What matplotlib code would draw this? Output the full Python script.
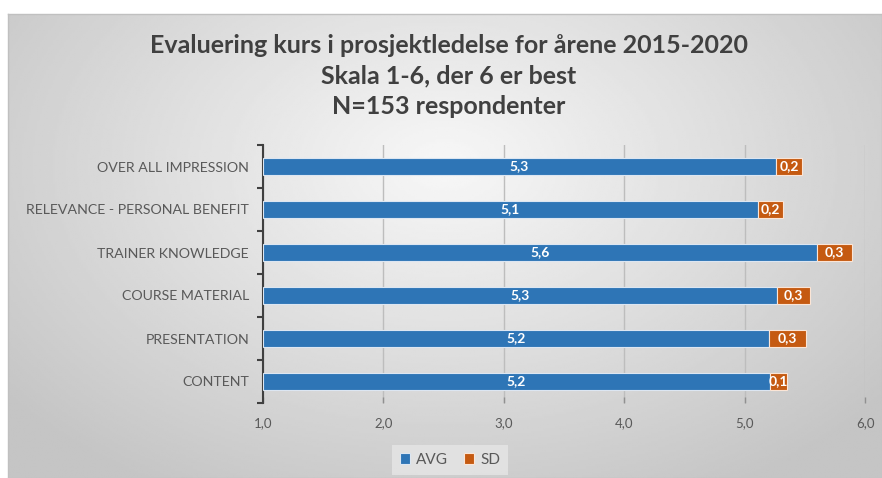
import matplotlib.pyplot as plt
import numpy as np

plt.rcParams['font.family'] = ['Lato', 'DejaVu Sans']

categories = ['OVER ALL IMPRESSION', 'RELEVANCE - PERSONAL BENEFIT', 'TRAINER KNOWLEDGE',
              'COURSE MATERIAL', 'PRESENTATION', 'CONTENT']
avg = [5.26, 5.11, 5.60, 5.27, 5.20, 5.21]
sd = [0.22, 0.21, 0.29, 0.27, 0.31, 0.14]
xticks = [1.0, 2.0, 3.0, 4.0, 5.0, 6.0]

blue = '#2E75B6'
orange = '#C55A11'
grey_txt = '#595959'


def comma(v):
    return ('%.1f' % v).replace('.', ',')


fig = plt.figure(figsize=(8.82, 4.78), dpi=100)
fig.patch.set_facecolor('white')

# gradient background panel
bg = fig.add_axes([8 / 882, 0, 874 / 882, 464 / 478], zorder=0)
gx = np.linspace(-1, 1, 400)
gy = np.linspace(-1, 1, 220)
GX, GY = np.meshgrid(gx, gy)
r = np.sqrt(GX ** 2 + (0.8 * (GY + 0.35)) ** 2)
shade = 0.97 - 0.2 * np.clip(r, 0, 1.3) / 1.3
bg.imshow(shade, cmap='gray', vmin=0, vmax=1, aspect='auto', extent=[0, 1, 0, 1])
bg.set_xticks([])
bg.set_yticks([])
for s in bg.spines.values():
    s.set_color('#c0c0c0')
    s.set_linewidth(1)

ax = fig.add_axes([263 / 882, 1 - 403 / 478, (865 - 263) / 882, 258 / 478], zorder=1)
ax.patch.set_alpha(0)

y = np.arange(len(categories))
widths = [a - 1 for a in avg]
ax.barh(y, widths, left=1, height=0.4, color=blue, edgecolor='#dce6f2', linewidth=0.8,
        label='AVG', zorder=3)
ax.barh(y, sd, left=avg, height=0.4, color=orange, edgecolor='#fbe5d6', linewidth=0.8,
        label='SD', zorder=3)

for i in range(len(categories)):
    ax.text((1 + avg[i]) / 2, y[i], comma(avg[i]), ha='center', va='center',
            color='white', fontsize=10, fontweight='bold', zorder=4)
    ax.text(avg[i] + sd[i] / 2, y[i], comma(sd[i]), ha='center', va='center',
            color='white', fontsize=10, fontweight='bold', zorder=4)

ax.set_xlim(1, 6)
ax.set_ylim(len(categories) - 0.5, -0.5)
ax.set_xticks(xticks)
ax.set_xticklabels([comma(v) for v in xticks], color=grey_txt, fontsize=9.5)
ax.set_yticks(y)
ax.set_yticklabels(categories, color=grey_txt, fontsize=10.2)
ax.set_yticks(np.arange(-0.5, len(categories), 1), minor=True)
ax.tick_params(axis='y', which='major', length=0, pad=10)
ax.tick_params(axis='y', which='minor', length=4, width=1.5, color='#404040', direction='out')
ax.tick_params(axis='x', length=4, width=1, color='#909090', direction='in', pad=10)
ax.grid(axis='x', color='#bdbdbd', linewidth=1, zorder=0)
for s in ['top', 'right', 'bottom']:
    ax.spines[s].set_visible(False)
ax.spines['left'].set_color('#404040')
ax.spines['left'].set_linewidth(1.5)

fig.text(0.509, 1 - 76 / 478, 'Evaluering kurs i prosjektledelse for årene 2015-2020\n'
         'Skala 1-6, der 6 er best\nN=153 respondenter',
         ha='center', va='center', fontsize=18, fontweight='bold', color='#404040',
         linespacing=1.4)

leg = ax.legend(loc='center', bbox_to_anchor=(450 / 882, 1 - 460 / 478),
                bbox_transform=fig.transFigure, ncol=2, frameon=True, fancybox=False,
                fontsize=11, handlelength=0.7, handleheight=0.7, handletextpad=0.4,
                columnspacing=1.0, borderpad=0.5)
leg.get_frame().set_facecolor('#e6e6e6')
leg.get_frame().set_edgecolor('none')
for t in leg.get_texts():
    t.set_color(grey_txt)

fig.savefig('out.png', dpi=100)
